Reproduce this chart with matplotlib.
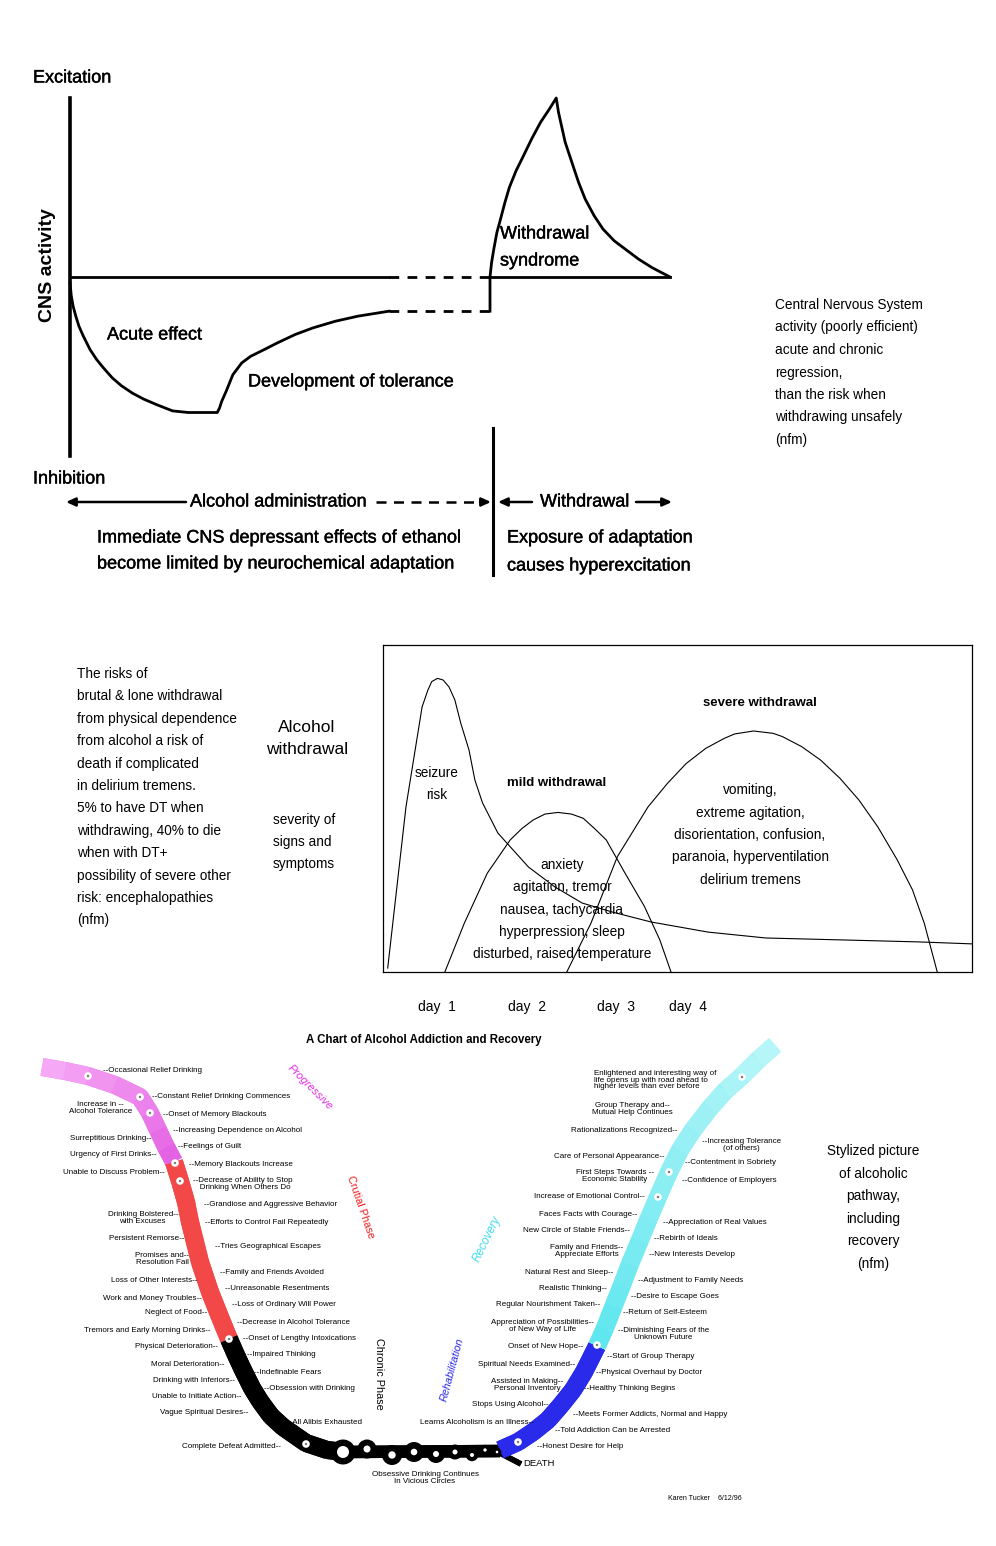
import numpy as np
import matplotlib.pyplot as plt
import matplotlib.patheffects as pe
from matplotlib.collections import LineCollection
from matplotlib.patches import Circle
from matplotlib.colors import to_rgb

plt.rcParams['font.family'] = ['Liberation Sans', 'DejaVu Sans']

W, H = 996, 1546

# --- top panel: CNS activity (-1 inhibition .. +1 excitation) over time (0..10)
acute_t = [0, 0.022, 0.052, 0.097, 0.149, 0.223, 0.335, 0.446, 0.558, 0.706, 0.855, 1.041, 1.227,
           1.450, 1.710, 1.970, 2.454, 2.491, 2.528, 2.602, 2.714, 2.862, 3.011, 3.234, 3.457,
           3.755, 4.052, 4.424, 4.796, 5.316]
acute_v = [-0.032, -0.107, -0.163, -0.219, -0.275, -0.331, -0.406, -0.462, -0.508, -0.564, -0.607,
           -0.649, -0.682, -0.714, -0.748, -0.757, -0.757, -0.733, -0.695, -0.639, -0.546, -0.480,
           -0.443, -0.406, -0.368, -0.321, -0.284, -0.247, -0.219, -0.191]
plateau_t = [5.316, 7.0]
plateau_v = [-0.191, -0.191]
withdraw_t = [7.0, 7.0, 7.026, 7.063, 7.115, 7.175, 7.249, 7.323, 7.435, 7.546, 7.695, 7.844, 7.993,
              8.104, 8.141, 8.178, 8.253, 8.364, 8.476, 8.587, 8.736, 8.885, 9.071, 9.257, 9.480,
              9.703, 10.0]
withdraw_v = [-0.191, 0.0, 0.080, 0.155, 0.249, 0.323, 0.417, 0.501, 0.594, 0.669, 0.772, 0.865,
              0.940, 1.0, 0.921, 0.865, 0.753, 0.641, 0.529, 0.435, 0.342, 0.267, 0.202, 0.155,
              0.099, 0.052, 0.0]
baseline_solid = [(0, 5.32), (7.0, 10.0)]
baseline_dash = (5.32, 7.0)

# --- middle panel: severity (0..100) over relative time (0..100)
seizure_t = [0.8, 3.9, 6.64, 7.62, 8.27, 9.25, 10.2, 11.2, 12.2, 13.2, 14.6, 15.6, 16.9, 19.5,
             24.7, 29.2, 33.8, 39.0, 45.5, 55.2, 65.0, 78.1, 91.0, 100]
seizure_s = [1.2, 50.5, 81.1, 86.2, 88.8, 89.8, 89.3, 87.2, 83.2, 76.1, 67.9, 58.7, 51.7, 42.5,
             32.1, 26.0, 21.1, 18.3, 15.3, 12.2, 10.4, 9.8, 9.2, 8.6]
mild_t = [10.5, 13.8, 17.7, 21.6, 23.6, 25.5, 27.5, 29.7, 32.0, 34.0, 35.9, 37.9, 41.1, 44.4,
          47.0, 48.9]
mild_s = [0, 14.9, 30.2, 40.4, 43.9, 46.5, 48.3, 48.8, 48.3, 47.0, 43.9, 40.4, 30.2, 20.0, 9.8, 0]
severe_t = [31.2, 35.3, 39.8, 45.0, 48.3, 51.5, 54.8, 58.0, 59.7, 62.9, 66.2, 67.8, 71.1, 74.3,
            77.6, 80.8, 84.0, 87.3, 89.9, 91.9, 94.1]
severe_s = [0, 14.9, 35.3, 50.5, 57.7, 63.8, 68.4, 71.5, 72.8, 73.7, 73.0, 72.0, 68.9, 64.8,
            59.2, 52.6, 44.4, 34.3, 25.1, 14.9, 0]
day_pos = [9.2, 24.4, 39.6, 51.8]
day_labels = ['day  1', 'day  2', 'day  3', 'day  4']

# --- bottom panel: pathway drawn on the page (pixels)
progressive_x = [42, 65, 88, 115, 140, 150, 158, 166, 174]
progressive_y = [1067, 1071, 1076, 1085, 1097, 1113, 1130, 1147, 1162]
crucial_x = [174, 180, 186, 190, 195, 200, 205, 210, 216, 222, 229]
crucial_y = [1162, 1181, 1202, 1222, 1242, 1262, 1277, 1292, 1307, 1322, 1339]
chronic_x = [229, 236, 243, 252, 260, 271, 283, 306, 327, 345]
chronic_y = [1339, 1355, 1370, 1388, 1401, 1416, 1427, 1443, 1450, 1452]
vicious_x = [345, 500]
vicious_y = [1452, 1451]
death_x = [498, 521]
death_y = [1452, 1464]
rehab_x = [500, 518, 533, 548, 561, 573, 584, 592, 597]
rehab_y = [1450, 1442, 1432, 1420, 1405, 1390, 1372, 1356, 1346]
recovery_x = [597, 605, 614, 622, 630, 640, 649, 658, 669, 680, 693, 710, 725, 742, 758, 775]
recovery_y = [1346, 1328, 1305, 1285, 1264, 1240, 1218, 1197, 1172, 1150, 1130, 1108, 1091, 1076, 1060, 1045]
circle_x = [343, 367, 392, 414, 436, 455, 472, 485, 497]
circle_y = [1452, 1449, 1455, 1452, 1454, 1452, 1455, 1450, 1452]
circle_r = [12.5, 9.5, 10, 10, 9, 7.5, 6.2, 5.2, 4.2]
hole_r = [6, 3.5, 3.7, 3.3, 3, 2.5, 2, 1.7, 1.3]
dot_x = [88, 140, 150, 175, 180, 229, 306, 518, 597, 658, 669, 742]
dot_y = [1076, 1097, 1113, 1163, 1181, 1339, 1444, 1442, 1345, 1197, 1172, 1077]

fig = plt.figure(figsize=(W / 100, H / 100), dpi=100)
ov = fig.add_axes([0, 0, 1, 1])
ov.set_xlim(0, W)
ov.set_ylim(H, 0)
ov.axis('off')


def px_axes(x0, y0, x1, y1):
    a = fig.add_axes([x0 / W, 1 - y1 / H, (x1 - x0) / W, (y1 - y0) / H])
    a.patch.set_visible(False)
    return a


def txt(x, y, s, size=10, ha='left', **kw):
    ov.text(x, y, s, fontsize=size, ha=ha, va='center', **kw)


heavy = [pe.withStroke(linewidth=0.3, foreground='black')]

# ================= top panel
ax1 = px_axes(70, 98, 670, 456)
ax1.set_xlim(0, 10)
ax1.set_ylim(-1, 1)
for s in ['top', 'right', 'bottom']:
    ax1.spines[s].set_visible(False)
ax1.spines['left'].set_linewidth(2.6)
ax1.set_xticks([])
ax1.set_yticks([])
lw_top = 2.0
for a, b in baseline_solid:
    ax1.plot([a, b], [0, 0], color='k', lw=lw_top, clip_on=False)
ax1.plot(baseline_dash, [0, 0], color='k', lw=lw_top, ls=(0, (3.5, 3)), clip_on=False)
ax1.plot(acute_t, acute_v, color='k', lw=lw_top, clip_on=False, solid_joinstyle='round')
ax1.plot(plateau_t, plateau_v, color='k', lw=lw_top, ls=(0, (3.5, 3)), clip_on=False)
ax1.plot(withdraw_t, withdraw_v, color='k', lw=lw_top, clip_on=False, solid_joinstyle='round')

tk = dict(size=13, path_effects=heavy)
txt(33, 78, 'Excitation', **tk)
txt(33, 479, 'Inhibition', **tk)
ov.text(48, 265, 'CNS activity', fontsize=14, rotation=90, ha='center', va='center',
        fontweight='bold')
txt(107, 335, 'Acute effect', **tk)
txt(248, 382, 'Development of tolerance', **tk)
txt(500, 234, 'Withdrawal', **tk)
txt(500, 261, 'syndrome', **tk)

arr = dict(arrowstyle='-|>,head_length=0.55,head_width=0.25', color='k', lw=1.8,
           shrinkA=0, shrinkB=0)
ov.annotate('', xy=(66, 502), xytext=(186, 502), arrowprops=arr)
txt(190, 502, 'Alcohol administration', **tk)
ov.plot([376, 481], [502, 502], color='k', lw=1.8, ls=(0, (4, 3)))
ov.annotate('', xy=(491, 502), xytext=(480, 502), arrowprops=arr)
ov.plot([493, 493], [428, 575], color='k', lw=2.2)
ov.annotate('', xy=(498, 502), xytext=(532, 502), arrowprops=arr)
txt(540, 502, 'Withdrawal', **tk)
ov.annotate('', xy=(672, 502), xytext=(636, 502), arrowprops=arr)
txt(97, 538, 'Immediate CNS depressant effects of ethanol', **tk)
txt(97, 564, 'become limited by neurochemical adaptation', **tk)
txt(507, 538, 'Exposure of adaptation', **tk)
txt(507, 566, 'causes hyperexcitation', **tk)

cns_note = ['Central Nervous System', 'activity (poorly efficient)', 'acute and chronic',
            'regression,', 'than the risk when', 'withdrawing unsafely', '(nfm)']
for i, line in enumerate(cns_note):
    txt(775, 305 + i * 22.5, line, size=9.8)

# ================= middle panel
ax2 = px_axes(383, 645, 972, 972)
ax2.set_xlim(0, 100)
ax2.set_ylim(0, 100)
for s in ax2.spines.values():
    s.set_linewidth(0.9)
ax2.set_yticks([])
ax2.set_xticks(day_pos, day_labels)
ax2.tick_params(axis='x', length=0, pad=20, labelsize=10)
for tt, ss in [(seizure_t, seizure_s), (mild_t, mild_s), (severe_t, severe_s)]:
    ax2.plot(tt, ss, color='k', lw=0.8, solid_joinstyle='round')

risk_note = ['The risks of', 'brutal & lone withdrawal', 'from physical dependence',
             'from alcohol a risk of', 'death if complicated', 'in delirium tremens.',
             '5% to have DT when', 'withdrawing, 40% to die', 'when with DT+',
             'possibility of severe other', 'risk: encephalopathies', '(nfm)']
for i, line in enumerate(risk_note):
    txt(77, 674 + i * 22.4, line, size=9.8)
txt(307, 727, 'Alcohol', size=12.5, ha='center')
txt(307, 750, 'withdrawal', size=12.5, ha='center')
for i, line in enumerate(['severity of', 'signs and', 'symptoms']):
    txt(273, 820 + i * 22, line, size=9.8)

txt(437, 773, 'seizure', size=9.8, ha='center')
txt(437, 795, 'risk', size=9.8, ha='center')
txt(557, 783, 'mild withdrawal', size=9.5, ha='center', fontweight='bold')
txt(760, 703, 'severe withdrawal', size=9.5, ha='center', fontweight='bold')
severe_note = ['vomiting,', 'extreme agitation,', 'disorientation, confusion,',
               'paranoia, hyperventilation', 'delirium tremens']
for i, line in enumerate(severe_note):
    txt(750, 790 + i * 22.5, line, size=9.8, ha='center')
mild_note = ['anxiety', 'agitation, tremor', 'nausea, tachycardia', 'hyperpression, sleep',
             'disturbed, raised temperature']
for i, line in enumerate(mild_note):
    txt(562, 865 + i * 22.3, line, size=9.8, ha='center')

# ================= bottom panel
txt(424, 1040, 'A Chart of Alcohol Addiction and Recovery', size=8.3, ha='center',
    fontweight='bold')


def band(xs, ys, c0, c1=None, lw=13):
    pts = np.column_stack([xs, ys])
    segs = np.stack([pts[:-1], pts[1:]], axis=1)
    n = len(segs)
    if c1 is None:
        cols = [c0] * n
        base = c0
    else:
        a, b = np.array(to_rgb(c0)), np.array(to_rgb(c1))
        cols = [tuple((1 - f) * a + f * b) for f in np.linspace(0, 1, n)]
        base = tuple(0.5 * (a + b))
    ov.plot(xs, ys, color=base, lw=lw, solid_capstyle='butt', solid_joinstyle='round')
    ov.add_collection(LineCollection(segs, colors=cols, linewidths=lw, capstyle='butt'))


band(progressive_x, progressive_y, '#f5a8f5', '#e463e4')
band(crucial_x, crucial_y, '#f34848')
band(chronic_x, chronic_y, '#000000')
band(vicious_x, vicious_y, '#000000', lw=9)
band(death_x, death_y, '#000000', lw=4)
band(rehab_x, rehab_y, '#2a2aea')
band(recovery_x, recovery_y, '#5fe6ef', '#b6f6f8')

for cx, cy, r, h in zip(circle_x, circle_y, circle_r, hole_r):
    ov.add_patch(Circle((cx, cy), r, facecolor='black', edgecolor='none', zorder=3))
    ov.add_patch(Circle((cx, cy), h, facecolor='white', edgecolor='none', zorder=4))

ov.scatter(dot_x, dot_y, s=30, color='white', edgecolor='none', zorder=5)
ov.scatter(dot_x, dot_y, s=3, color='#777777', edgecolor='none', zorder=6)

lab = dict(size=5.8, linespacing=0.95)
# labels to the left of the path (end at x)
left_notes = [
    (132, 1108, 'Increase in --\nAlcohol Tolerance'),
    (151, 1138, 'Surreptitious Drinking--'),
    (157, 1155, 'Urgency of First Drinks--'),
    (165, 1172, 'Unable to Discuss Problem--'),
    (178, 1218, 'Drinking Bolstered--\nwith Excuses'),
    (184, 1238, 'Persistent Remorse--'),
    (189, 1259, 'Promises and--\nResolution Fail'),
    (197, 1281, 'Loss of Other Interests--'),
    (202, 1298, 'Work and Money Troubles--'),
    (207, 1313, 'Neglect of Food--'),
    (211, 1330, 'Tremors and Early Morning Drinks--'),
    (218, 1347, 'Physical Deterioration--'),
    (224, 1364, 'Moral Deterioration--'),
    (235, 1381, 'Drinking with Inferiors--'),
    (242, 1397, 'Unable to Initiate Action--'),
    (248, 1413, 'Vague Spiritual Desires--'),
    (281, 1446, 'Complete Defeat Admitted--'),
    (673, 1109, 'Group Therapy and--\nMutual Help Continues'),
    (677, 1131, 'Rationalizations Recognized--'),
    (665, 1157, 'Care of Personal Appearance--'),
    (654, 1176, 'First Steps Towards --\nEconomic Stability'),
    (645, 1197, 'Increase of Emotional Control--'),
    (637, 1214, 'Faces Facts with Courage--'),
    (630, 1230, 'New Circle of Stable Friends--'),
    (623, 1251, 'Family and Friends--\nAppreciate Efforts'),
    (613, 1272, 'Natural Rest and Sleep--'),
    (607, 1288, 'Realistic Thinking--'),
    (600, 1305, 'Regular Nourishment Taken--'),
    (594, 1326, 'Appreciation of Possibilities--\nof New Way of Life'),
    (583, 1347, 'Onset of New Hope--'),
    (575, 1364, 'Spiritual Needs Examined--'),
    (563, 1385, 'Assisted in Making--\nPersonal Inventory'),
    (548, 1405, 'Stops Using Alcohol--'),
    (534, 1422, 'Learns Alcoholism is an Illness--'),
]
for x, y, s in left_notes:
    txt(x, y, s, ha='right', multialignment='center', **lab)

# labels to the right of the path (start at x)
right_notes = [
    (103, 1071, '--Occasional Relief Drinking'),
    (152, 1097, '--Constant Relief Drinking Commences'),
    (163, 1114, '--Onset of Memory Blackouts'),
    (173, 1130, '--Increasing Dependence on Alcohol'),
    (178, 1147, '--Feelings of Guilt'),
    (189, 1164, '--Memory Blackouts Increase'),
    (193, 1184, '--Decrease of Ability to Stop\n   Drinking When Others Do'),
    (204, 1205, '--Grandiose and Aggressive Behavior'),
    (205, 1222, '--Efforts to Control Fail Repeatedly'),
    (215, 1247, '--Tries Geographical Escapes'),
    (220, 1272, '--Family and Friends Avoided'),
    (225, 1288, '--Unreasonable Resentments'),
    (232, 1305, '--Loss of Ordinary Will Power'),
    (237, 1322, '--Decrease in Alcohol Tolerance'),
    (243, 1338, '--Onset of Lengthy Intoxications'),
    (247, 1355, '--Impaired Thinking'),
    (254, 1372, '--Indefinable Fears'),
    (264, 1389, '--Obsession with Drinking'),
    (287, 1423, '--All Alibis Exhausted'),
    (594, 1080, 'Enlightened and interesting way of\nlife opens up with road ahead to\n'
                'higher levels than ever before'),
    (685, 1163, '--Contentment in Sobriety'),
    (682, 1181, '--Confidence of Employers'),
    (663, 1222, '--Appreciation of Real Values'),
    (654, 1239, '--Rebirth of Ideals'),
    (649, 1255, '--New Interests Develop'),
    (638, 1281, '--Adjustment to Family Needs'),
    (631, 1297, '--Desire to Escape Goes'),
    (623, 1313, '--Return of Self-Esteem'),
    (607, 1356, '--Start of Group Therapy'),
    (596, 1372, '--Physical Overhaul by Doctor'),
    (584, 1389, '--Healthy Thinking Begins'),
    (573, 1414, '--Meets Former Addicts, Normal and Happy'),
    (555, 1430, '--Told Addiction Can be Arrested'),
    (537, 1447, '--Honest Desire for Help'),
]
for x, y, s in right_notes:
    txt(x, y, s, ha='left', multialignment='left', **lab)
txt(702, 1145, '--Increasing Tolerance\n(of others)', ha='left', multialignment='center', **lab)
txt(618, 1334, '--Diminishing Fears of the\nUnknown Future', ha='left',
    multialignment='center', **lab)
txt(425, 1478, 'Obsessive Drinking Continues\nIn Vicious Circles', ha='center',
    multialignment='center', **lab)
txt(523, 1464, 'DEATH', size=6.8)

ov.text(310, 1087, 'Progressive', color='#e22be2', fontsize=8, style='italic',
        rotation=-45, ha='center', va='center')
ov.text(361, 1207, 'Crutial Phase', color='#f01c1c', fontsize=7.8,
        rotation=-71, ha='center', va='center')
ov.text(379, 1374, 'Chronic Phase', color='black', fontsize=7.8,
        rotation=-90, ha='center', va='center')
ov.text(452, 1370, 'Rehabilitation', color='#2a2ae8', fontsize=7.8, style='italic',
        rotation=75, ha='center', va='center')
ov.text(487, 1239, 'Recovery', color='#3fdcee', fontsize=8.5, style='italic',
        rotation=64, ha='center', va='center')

path_note = ['Stylized picture', 'of alcoholic', 'pathway,', 'including', 'recovery', '(nfm)']
for i, line in enumerate(path_note):
    txt(873, 1151 + i * 22.6, line, size=9.8, ha='center')

txt(668, 1498, 'Karen Tucker    6/12/96', size=5)

fig.savefig('out.png', dpi=100)
